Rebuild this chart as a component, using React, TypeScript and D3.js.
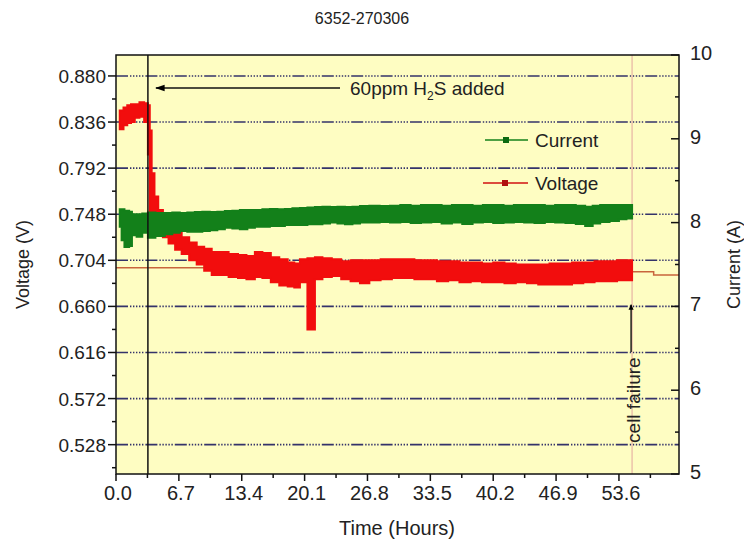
import React from "react";
import * as d3 from "d3";

// ---- data -------------------------------------------------------------
const title = "6352-270306";

// Voltage band (min / max per time step, hours)
const voltHours = [0.4, 0.8, 1.2, 1.6, 2.0, 2.5, 3.0, 3.4, 3.6, 3.8, 4.1, 4.5, 5.0, 5.6, 6.3, 7.0, 7.8, 8.6, 9.4, 10.2, 11.0, 12.0, 13.0, 13.9, 14.8, 15.6, 16.5, 17.4, 18.3, 19.0, 19.6, 20.4, 21.2, 22.0, 23.0, 24.0, 25.0, 26.0, 27.0, 28.2, 29.4, 30.6, 31.8, 33.0, 34.2, 35.4, 36.6, 37.8, 39.0, 40.2, 41.4, 42.6, 43.8, 45.0, 46.2, 47.4, 48.6, 49.8, 51.0, 52.2, 53.4, 54.4, 55.0];
const voltLow = [0.829, 0.833, 0.835, 0.836, 0.840, 0.841, 0.836, 0.805, 0.750, 0.745, 0.742, 0.738, 0.726, 0.720, 0.714, 0.710, 0.704, 0.700, 0.694, 0.690, 0.690, 0.688, 0.687, 0.686, 0.688, 0.687, 0.683, 0.680, 0.679, 0.678, 0.683, 0.638, 0.686, 0.688, 0.689, 0.686, 0.684, 0.682, 0.685, 0.686, 0.687, 0.687, 0.686, 0.686, 0.684, 0.685, 0.683, 0.684, 0.683, 0.683, 0.682, 0.683, 0.682, 0.681, 0.681, 0.681, 0.682, 0.683, 0.684, 0.684, 0.685, 0.685, 0.685];
const voltHigh = [0.847, 0.850, 0.852, 0.853, 0.853, 0.855, 0.854, 0.852, 0.828, 0.787, 0.765, 0.752, 0.742, 0.737, 0.731, 0.726, 0.721, 0.717, 0.715, 0.712, 0.712, 0.710, 0.709, 0.708, 0.712, 0.711, 0.707, 0.705, 0.702, 0.701, 0.705, 0.706, 0.707, 0.706, 0.705, 0.703, 0.704, 0.704, 0.704, 0.705, 0.705, 0.705, 0.704, 0.704, 0.703, 0.703, 0.702, 0.702, 0.701, 0.702, 0.701, 0.700, 0.700, 0.700, 0.701, 0.701, 0.702, 0.702, 0.703, 0.703, 0.704, 0.704, 0.704];

// Current band (min / max per time step, hours)
const currHours = [0.4, 0.6, 0.9, 1.4, 1.7, 2.2, 2.8, 3.4, 4.2, 5.2, 6.0, 6.8, 7.6, 8.4, 9.2, 10.0, 10.8, 11.6, 12.4, 13.2, 14.0, 14.8, 15.6, 16.4, 17.2, 18.0, 18.8, 19.6, 20.4, 21.2, 22.0, 22.8, 23.6, 24.4, 25.2, 26.0, 27.0, 28.1, 29.2, 30.3, 31.4, 32.5, 33.6, 34.7, 35.8, 36.9, 38.0, 39.1, 40.2, 41.3, 42.4, 43.5, 44.6, 45.7, 46.8, 47.9, 49.0, 50.0, 50.8, 51.6, 52.6, 53.6, 54.4, 55.0];
const currLow = [7.95, 7.79, 7.71, 7.72, 7.85, 7.83, 7.88, 7.82, 7.84, 7.86, 7.88, 7.90, 7.89, 7.89, 7.90, 7.91, 7.92, 7.94, 7.93, 7.92, 7.94, 7.95, 7.95, 7.96, 7.96, 7.97, 7.97, 7.97, 7.98, 7.98, 7.99, 8.00, 7.99, 7.98, 7.99, 8.00, 8.00, 8.007, 8.00, 8.007, 7.995, 8.00, 8.007, 7.99, 8.00, 7.983, 8.00, 8.007, 7.995, 8.00, 8.007, 8.00, 7.995, 8.007, 8.00, 7.995, 7.983, 7.96, 7.99, 8.007, 8.02, 8.04, 8.05, 8.05];
const currHigh = [8.16, 8.16, 8.14, 8.13, 8.10, 8.10, 8.11, 8.12, 8.115, 8.115, 8.12, 8.115, 8.12, 8.126, 8.13, 8.126, 8.13, 8.138, 8.14, 8.15, 8.15, 8.15, 8.16, 8.162, 8.16, 8.162, 8.17, 8.174, 8.18, 8.186, 8.19, 8.186, 8.19, 8.186, 8.19, 8.198, 8.20, 8.198, 8.20, 8.21, 8.20, 8.21, 8.21, 8.20, 8.21, 8.21, 8.20, 8.21, 8.21, 8.20, 8.21, 8.21, 8.21, 8.20, 8.21, 8.21, 8.20, 8.19, 8.20, 8.21, 8.21, 8.21, 8.21, 8.21];

// Thin voltage trace segments outside the measured band
const refLeftHours = [0, 10];
const refLeftVolt = [0.697, 0.697];
const refRightHours = [55.0, 57.3, 57.3, 60];
const refRightVolt = [0.693, 0.693, 0.690, 0.690];

const h2sHour = 3.4;
const failureHour = 55.0;

const voltTicks = [0.528, 0.572, 0.616, 0.66, 0.704, 0.748, 0.792, 0.836, 0.88];
const voltMinor = [0.506, 0.55, 0.594, 0.638, 0.682, 0.726, 0.77, 0.814, 0.858];
const timeTicks = [0, 6.7, 13.4, 20.1, 26.8, 33.5, 40.2, 46.9, 53.6];
const timeMinor = [3.35, 10.05, 16.75, 23.45, 30.15, 36.85, 43.55, 50.25, 56.95];
const currTicks = [5, 6, 7, 8, 9, 10];
const currMinor = [5.5, 6.5, 7.5, 8.5, 9.5];

// ---- layout -----------------------------------------------------------
const W = 744;
const H = 547;
const L = 116;
const R = 679;
const T = 55;
const B = 474;

const FONT = "'Liberation Sans', Arial, sans-serif";
const TXT = "#222";
const RED = "#f20d0d";
const GREEN = "#13801a";
const GRID = "#34336a";

export default function App() {
  const x = d3.scaleLinear().domain([0, 60]).range([L, R]);
  const yV = d3.scaleLinear().domain([0.5, 0.9]).range([B, T]);
  const yC = d3.scaleLinear().domain([5, 10]).range([B, T]);

  const voltArea = d3
    .area<number>()
    .x((i) => x(voltHours[i]))
    .y0((i) => yV(voltLow[i]))
    .y1((i) => yV(voltHigh[i]))
    .curve(d3.curveStepAfter);
  const currArea = d3
    .area<number>()
    .x((i) => x(currHours[i]))
    .y0((i) => yC(currLow[i]))
    .y1((i) => yC(currHigh[i]))
    .curve(d3.curveStepAfter);

  const refLine = (hs: number[], vs: number[]) =>
    d3
      .line<number>()
      .x((i) => x(hs[i]))
      .y((i) => yV(vs[i]))(hs.map((_, i) => i)) || "";

  const voltPath = voltArea(voltHours.map((_, i) => i)) || "";
  const currPath = currArea(currHours.map((_, i) => i)) || "";

  const fmtV = d3.format(".3f");
  const fmtT = d3.format(".1f");

  const arrowY = yV(0.8685);

  return (
    <svg
      width={W}
      height={H}
      style={{ position: "absolute", left: 0, top: 0, background: "#fff" }}
      fontFamily={FONT}
    >
      <defs>
        <marker id="arrowHead" viewBox="0 0 10 10" refX="9" refY="5" markerWidth="6" markerHeight="6" orient="auto">
          <path d="M10,5 L0,1.5 L0,8.5 Z" fill="#000" />
        </marker>
        <marker id="arrowSmall" viewBox="0 0 10 10" refX="9" refY="5" markerWidth="4" markerHeight="5" orient="auto">
          <path d="M10,5 L0,0.5 L0,9.5 Z" fill="#000" />
        </marker>
        <clipPath id="plot">
          <rect x={L} y={T} width={R - L} height={B - T} />
        </clipPath>
      </defs>

      <text x={362} y={24} textAnchor="middle" fontSize={16} fill={TXT}>
        {title}
      </text>

      {/* plot background */}
      <rect x={L} y={T} width={R - L} height={B - T} fill="#fefdc2" />

      {/* horizontal grid */}
      {voltTicks.map((v) => (
        <line
          key={"g" + v}
          x1={L}
          x2={R}
          y1={yV(v)}
          y2={yV(v)}
          stroke={GRID}
          strokeWidth={1.6}
          strokeDasharray="12,2,1.4,1.6,1.4,1.6,1.4,1.6,1.4,1.6,1.4,2"
        />
      ))}

      <g clipPath="url(#plot)">
        {/* thin trace outside band */}
        <path d={refLine(refLeftHours, refLeftVolt)} fill="none" stroke="#c8643c" strokeWidth={1.5} />
        <path d={refLine(refRightHours, refRightVolt)} fill="none" stroke="#c8643c" strokeWidth={1.5} />

        {/* cell failure marker line */}
        <line x1={x(failureHour)} x2={x(failureHour)} y1={T} y2={B} stroke="#e9b9a6" strokeWidth={1.3} />

        {/* voltage band */}
        <path d={voltPath} fill={RED} stroke={RED} strokeWidth={2} />
        {/* current band */}
        <path d={currPath} fill={GREEN} stroke={GREEN} strokeWidth={2} />

        {/* H2S addition line */}
        <line x1={x(h2sHour)} x2={x(h2sHour)} y1={T} y2={B} stroke="#111" strokeWidth={1.5} />
      </g>

      {/* H2S annotation */}
      <line x1={340} x2={156} y1={arrowY} y2={arrowY} stroke="#111" strokeWidth={1.6} markerEnd="url(#arrowHead)" />
      <text x={350} y={arrowY + 7} fontSize={19} fill={TXT}>
        60ppm H
        <tspan fontSize={12} dy={5}>2</tspan>
        <tspan dy={-5}>S added</tspan>
      </text>

      {/* cell failure annotation */}
      <line x1={x(failureHour) - 1} x2={x(failureHour) - 1} y1={yV(0.6165)} y2={yV(0.6615)} stroke="#111" strokeWidth={1.4} markerEnd="url(#arrowSmall)" />
      <text
        transform={`translate(${x(failureHour) + 8},${yV(0.5705)}) rotate(-90)`}
        textAnchor="middle"
        fontSize={19}
        fill={TXT}
      >
        cell failure
      </text>

      {/* legend */}
      <g>
        <line x1={485} x2={528} y1={140} y2={140} stroke={GREEN} strokeWidth={1.5} />
        <rect x={503} y={137} width={6} height={6} fill="#0c6a12" />
        <text x={535} y={147} fontSize={19} fill={TXT}>Current</text>
        <line x1={483} x2={528} y1={183} y2={183} stroke="#d01010" strokeWidth={1.5} />
        <rect x={502} y={180} width={6} height={6} fill="#b01010" />
        <text x={535} y={190} fontSize={19} fill={TXT}>Voltage</text>
      </g>

      {/* frame */}
      <rect x={L} y={T} width={R - L} height={B - T} fill="none" stroke="#111" strokeWidth={1.5} />

      {/* left axis */}
      {voltTicks.map((v) => (
        <g key={"lv" + v}>
          <line x1={L - 8} x2={L} y1={yV(v)} y2={yV(v)} stroke="#111" strokeWidth={1.5} />
          <text x={L - 10} y={yV(v) + 7} textAnchor="end" fontSize={19} fill={TXT}>
            {fmtV(v)}
          </text>
        </g>
      ))}
      {voltMinor.map((v) => (
        <line key={"lm" + v} x1={L - 4} x2={L} y1={yV(v)} y2={yV(v)} stroke="#111" strokeWidth={1.5} />
      ))}

      {/* right axis */}
      {currTicks.map((c) => (
        <g key={"rc" + c}>
          <line x1={R - 8} x2={R} y1={yC(c)} y2={yC(c)} stroke="#111" strokeWidth={1.5} />
          <text x={R + 11} y={yC(c) + 5} textAnchor="start" fontSize={20} fill={TXT}>
            {c}
          </text>
        </g>
      ))}
      {currMinor.map((c) => (
        <line key={"rm" + c} x1={R - 4} x2={R} y1={yC(c)} y2={yC(c)} stroke="#111" strokeWidth={1.5} />
      ))}

      {/* bottom axis */}
      {timeTicks.map((t) => (
        <g key={"bt" + t}>
          <line x1={x(t)} x2={x(t)} y1={B} y2={B + 7} stroke="#111" strokeWidth={1.5} />
          <text x={x(t) + 2} y={B + 26} textAnchor="middle" fontSize={20} fill={TXT}>
            {fmtT(t)}
          </text>
        </g>
      ))}
      {timeMinor.map((t) => (
        <line key={"bm" + t} x1={x(t)} x2={x(t)} y1={B} y2={B + 4} stroke="#111" strokeWidth={1.5} />
      ))}

      {/* axis titles */}
      <text x={397} y={535} textAnchor="middle" fontSize={20} fill={TXT}>
        Time (Hours)
      </text>
      <text transform={`translate(29,${(T + B) / 2}) rotate(-90)`} textAnchor="middle" fontSize={18} fill={TXT}>
        Voltage (V)
      </text>
      <text transform={`translate(740,${(T + B) / 2}) rotate(-90)`} textAnchor="middle" fontSize={18} fill={TXT}>
        Current (A)
      </text>
    </svg>
  );
}
